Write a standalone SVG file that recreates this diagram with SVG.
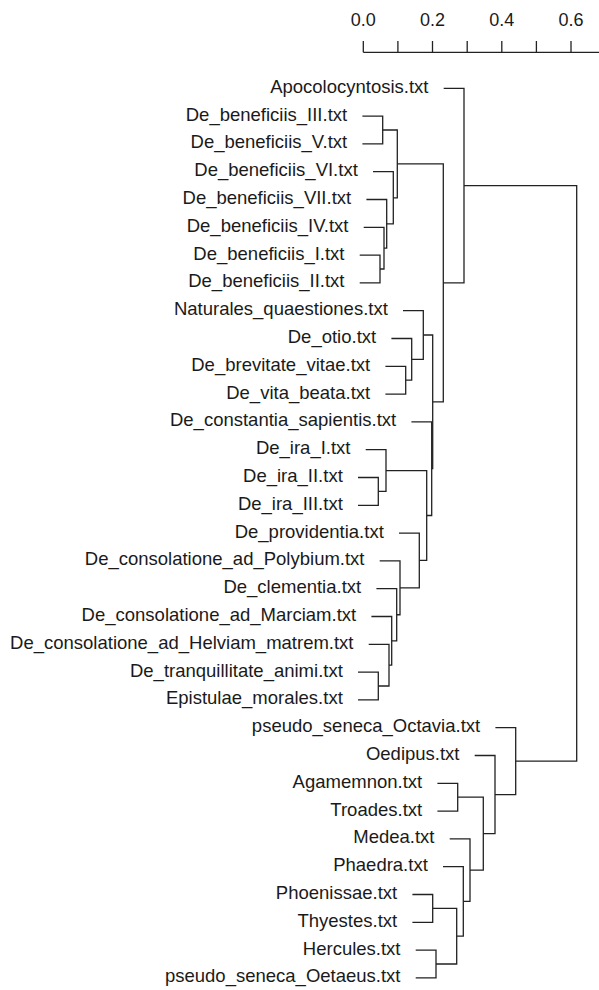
<svg xmlns="http://www.w3.org/2000/svg" width="599" height="990" viewBox="0 0 599 990">
<style>
.lbl{font-family:"Liberation Sans",Arial,sans-serif;font-size:18.5px;fill:#1a1a1a;text-anchor:end}
.ax{font-family:"Liberation Sans",Arial,sans-serif;font-size:18px;fill:#1a1a1a;text-anchor:middle}
.ln{fill:none;stroke:#222;stroke-width:1.3}
</style>
<rect width="599" height="990" fill="#fff"/>
<g id="axis">
<path class="ln" d="M363.3,52.3H599M363.3,41V52.3M397.9,41V52.3M432.5,41V52.3M467.2,41V52.3M501.8,41V52.3M536.4,41V52.3M571,41V52.3"/>
<text class="ax" x="363.3" y="26">0.0</text>
<text class="ax" x="432.5" y="26">0.2</text>
<text class="ax" x="501.8" y="26">0.4</text>
<text class="ax" x="571" y="26">0.6</text>
</g>
<g id="leaves">
<g id="leaf1"><text class="lbl" x="428.5" y="92.8">Apocolocyntosis.txt</text></g>
<g id="leaf2"><text class="lbl" x="347.2" y="120.6">De_beneficiis_III.txt</text></g>
<g id="leaf3"><text class="lbl" x="347.2" y="148.4">De_beneficiis_V.txt</text></g>
<g id="leaf4"><text class="lbl" x="357.8" y="176.2">De_beneficiis_VI.txt</text></g>
<g id="leaf5"><text class="lbl" x="351.2" y="204">De_beneficiis_VII.txt</text></g>
<g id="leaf6"><text class="lbl" x="348.5" y="231.8">De_beneficiis_IV.txt</text></g>
<g id="leaf7"><text class="lbl" x="344.5" y="259.6">De_beneficiis_I.txt</text></g>
<g id="leaf8"><text class="lbl" x="344.5" y="287.4">De_beneficiis_II.txt</text></g>
<g id="leaf9"><text class="lbl" x="387.8" y="315.2">Naturales_quaestiones.txt</text></g>
<g id="leaf10"><text class="lbl" x="376.2" y="343">De_otio.txt</text></g>
<g id="leaf11"><text class="lbl" x="370.2" y="370.8">De_brevitate_vitae.txt</text></g>
<g id="leaf12"><text class="lbl" x="370.2" y="398.6">De_vita_beata.txt</text></g>
<g id="leaf13"><text class="lbl" x="396.2" y="426.4">De_constantia_sapientis.txt</text></g>
<g id="leaf14"><text class="lbl" x="350.5" y="454.2">De_ira_I.txt</text></g>
<g id="leaf15"><text class="lbl" x="342.8" y="482">De_ira_II.txt</text></g>
<g id="leaf16"><text class="lbl" x="342.8" y="509.8">De_ira_III.txt</text></g>
<g id="leaf17"><text class="lbl" x="383.8" y="537.6">De_providentia.txt</text></g>
<g id="leaf18"><text class="lbl" x="364.5" y="565.4">De_consolatione_ad_Polybium.txt</text></g>
<g id="leaf19"><text class="lbl" x="361.2" y="593.2">De_clementia.txt</text></g>
<g id="leaf20"><text class="lbl" x="356.2" y="621">De_consolatione_ad_Marciam.txt</text></g>
<g id="leaf21"><text class="lbl" x="353.5" y="648.8">De_consolatione_ad_Helviam_matrem.txt</text></g>
<g id="leaf22"><text class="lbl" x="342.8" y="676.6">De_tranquillitate_animi.txt</text></g>
<g id="leaf23"><text class="lbl" x="342.8" y="704.4">Epistulae_morales.txt</text></g>
<g id="leaf24"><text class="lbl" x="480.2" y="732.2">pseudo_seneca_Octavia.txt</text></g>
<g id="leaf25"><text class="lbl" x="459.5" y="760">Oedipus.txt</text></g>
<g id="leaf26"><text class="lbl" x="422.2" y="787.8">Agamemnon.txt</text></g>
<g id="leaf27"><text class="lbl" x="422.2" y="815.6">Troades.txt</text></g>
<g id="leaf28"><text class="lbl" x="434.5" y="843.4">Medea.txt</text></g>
<g id="leaf29"><text class="lbl" x="427.8" y="871.2">Phaedra.txt</text></g>
<g id="leaf30"><text class="lbl" x="397.2" y="899">Phoenissae.txt</text></g>
<g id="leaf31"><text class="lbl" x="397.2" y="926.8">Thyestes.txt</text></g>
<g id="leaf32"><text class="lbl" x="400.5" y="954.6">Hercules.txt</text></g>
<g id="leaf33"><text class="lbl" x="400.5" y="982.4">pseudo_seneca_Oetaeus.txt</text></g>
</g>
<g id="connectors" class="ln">
<path d="M362.4,116.1H382.7V143.9H362.4"/>
<path d="M359.7,255.1H380V282.9H359.7"/>
<path d="M363.7,227.3H384V269H380"/>
<path d="M366.4,199.5H386.7V248.2H384"/>
<path d="M373,171.7H393.3V223.85H386.7"/>
<path d="M382.7,130H397.3V197.8H393.3"/>
<path d="M358,477.5H378.3V505.3H358"/>
<path d="M365.7,449.7H386V491.4H378.3"/>
<path d="M358,672.1H378.3V699.9H358"/>
<path d="M368.7,644.3H389V686H378.3"/>
<path d="M371.4,616.5H391.7V665.15H389"/>
<path d="M376.4,588.7H396.7V640.8H391.7"/>
<path d="M379.7,560.9H400V614.75H396.7"/>
<path d="M399,533.1H419.3V587.8H400"/>
<path d="M386,470.55H426.7V560.45H419.3"/>
<path d="M411.4,421.9H431.7V515.5H426.7"/>
<path d="M385.4,366.3H405.7V394.1H385.4"/>
<path d="M391.4,338.5H411.7V380.2H405.7"/>
<path d="M403,310.7H423.3V359.35H411.7"/>
<path d="M423.3,335H432.7V468.7H431.7"/>
<path d="M397.3,163.9H443.3V401.85H432.7"/>
<path d="M443.7,88.3H464V282.9H443.3"/>
<path d="M412.4,894.5H432.7V922.3H412.4"/>
<path d="M415.7,950.1H436V977.9H415.7"/>
<path d="M432.7,908.4H456.7V964H436"/>
<path d="M443,866.7H463.3V936.2H456.7"/>
<path d="M449.7,838.9H470V901.45H463.3"/>
<path d="M437.4,783.3H457.7V811.1H437.4"/>
<path d="M457.7,797.2H483.3V870.2H470"/>
<path d="M474.7,755.5H495V833.7H483.3"/>
<path d="M495.4,727.7H515.7V794.6H495"/>
<path d="M464,185.6H576.7V761.15H515.7"/>
</g>
</svg>
